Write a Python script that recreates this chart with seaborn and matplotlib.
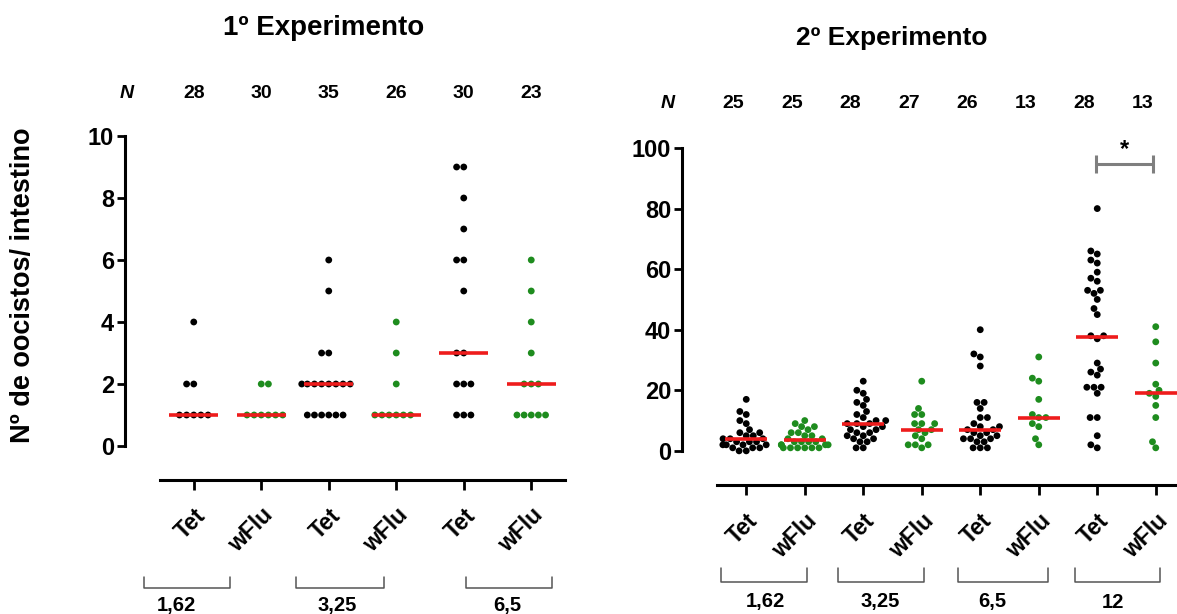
import warnings
import numpy as np
import pandas as pd
import matplotlib
matplotlib.use("Agg")
import matplotlib.pyplot as plt
import matplotlib.transforms as mtransforms
import seaborn as sns

warnings.filterwarnings("ignore")

sns.set_theme(style="ticks")
plt.rcParams["font.family"] = ["Liberation Sans", "DejaVu Sans"]
plt.rcParams["font.weight"] = "bold"
plt.rcParams["text.color"] = "black"
plt.rcParams["xtick.color"] = "black"
plt.rcParams["ytick.color"] = "black"
plt.rcParams["xtick.labelcolor"] = "black"
plt.rcParams["ytick.labelcolor"] = "black"

# ---- 1º Experimento ----
exp1_groups = ["Tet 1,62", "wFlu 1,62", "Tet 3,25", "wFlu 3,25", "Tet 6,5", "wFlu 6,5"]
exp1_ticklabels = ["Tet", "wFlu", "Tet", "wFlu", "Tet", "wFlu"]
exp1_tet_162 = [4, 2, 2, 1, 1, 1, 1, 1]
exp1_wflu_162 = [2, 2, 1, 1, 1, 1, 1, 1]
exp1_tet_325 = [6, 5, 3, 3, 2, 2, 2, 2, 2, 2, 2, 2, 1, 1, 1, 1, 1, 1]
exp1_wflu_325 = [4, 3, 2, 1, 1, 1, 1, 1, 1]
exp1_tet_65 = [9, 9, 8, 7, 6, 6, 5, 3, 3, 2, 2, 2, 1, 1, 1]
exp1_wflu_65 = [6, 5, 4, 3, 2, 2, 2, 1, 1, 1, 1, 1]
exp1_medians = [1, 1, 2, 1, 3, 2]
exp1_n = [28, 30, 35, 26, 30, 23]
exp1_doses = ["1,62", "3,25", "6,5"]

# ---- 2º Experimento ----
exp2_groups = ["Tet 1,62", "wFlu 1,62", "Tet 3,25", "wFlu 3,25",
               "Tet 6,5", "wFlu 6,5", "Tet 12", "wFlu 12"]
exp2_ticklabels = ["Tet", "wFlu", "Tet", "wFlu", "Tet", "wFlu", "Tet", "wFlu"]
exp2_tet_162 = [17, 13, 12, 10, 9, 7, 6, 6, 5, 5, 4, 4, 4, 3, 3, 3, 2, 2, 2, 2, 1, 1, 1, 0, 0]
exp2_wflu_162 = [10, 9, 8, 8, 7, 6, 6, 5, 5, 4, 4, 3, 3, 3, 3, 2, 2, 2, 2, 1, 1, 1, 1, 1, 1]
exp2_tet_325 = [23, 20, 19, 17, 16, 15, 13, 12, 11, 10, 10, 9, 9, 9, 8, 8, 7, 7,
                6, 6, 5, 5, 4, 4, 3, 3, 1, 1]
exp2_wflu_325 = [23, 14, 12, 12, 9, 9, 9, 7, 7, 6, 5, 4, 2, 2, 2, 1]
exp2_tet_65 = [40, 32, 31, 28, 16, 16, 14, 11, 11, 9, 8, 8, 7, 7, 6, 6, 5, 5,
               4, 4, 4, 3, 3, 1, 1, 1]
exp2_wflu_65 = [31, 24, 23, 17, 12, 11, 11, 9, 8, 4, 2]
exp2_tet_12 = [80, 66, 65, 63, 62, 59, 57, 56, 53, 53, 52, 50, 47, 45, 38, 38, 37,
               29, 27, 26, 25, 21, 21, 21, 19, 11, 11, 5, 2, 1]
exp2_wflu_12 = [41, 36, 29, 22, 20, 19, 18, 15, 11, 3, 1]
exp2_medians = [4, 3.5, 9, 7, 7, 11, 37.5, 19]
exp2_n = [25, 25, 28, 27, 26, 13, 28, 13]
exp2_doses = ["1,62", "3,25", "6,5", "12"]

BLACK = "#000000"
GREEN = "#1e8c1e"
RED = "#ee1c1c"
W, H = 1177, 614


def to_frame(groups, values):
    rows = []
    for g, vals in zip(groups, values):
        for v in vals:
            rows.append({"grupo": g, "valor": v})
    return pd.DataFrame(rows)


df1 = to_frame(exp1_groups, [exp1_tet_162, exp1_wflu_162, exp1_tet_325,
                             exp1_wflu_325, exp1_tet_65, exp1_wflu_65])
df2 = to_frame(exp2_groups, [exp2_tet_162, exp2_wflu_162, exp2_tet_325, exp2_wflu_325,
                             exp2_tet_65, exp2_wflu_65, exp2_tet_12, exp2_wflu_12])

fig = plt.figure(figsize=(W / 100, H / 100), dpi=100)
ax1 = fig.add_axes([160 / W, (H - 461.5) / H, 405 / W, 325.5 / H])
ax2 = fig.add_axes([717 / W, (H - 466) / H, 468 / W, 318 / H])


def draw_panel(ax, df, groups, ticklabels, medians, ylim, yticks, bottom_out):
    pal = {g: (BLACK if g.startswith("Tet") else GREEN) for g in groups}
    sns.swarmplot(data=df, x="grupo", y="valor", hue="grupo", order=groups,
                  hue_order=groups, palette=pal, size=4.9, linewidth=0,
                  legend=False, ax=ax)
    xs = np.arange(len(groups))
    ax.hlines(medians, xs - 0.36, xs + 0.36, colors=RED, lw=2.6, zorder=5)
    ax.set_xlim(-0.5, len(groups) - 0.5)
    ax.set_ylim(*ylim)
    ax.set_xlabel("")
    ax.set_ylabel("")
    sns.despine(ax=ax)
    # spine positions first (moving a spine resets the tick objects)
    ax.spines["left"].set_position(("outward", 25))
    ax.spines["bottom"].set_position(("outward", bottom_out))
    ax.spines["left"].set_bounds(yticks[0], yticks[-1])
    for s in ["left", "bottom"]:
        ax.spines[s].set_linewidth(2.2)
        ax.spines[s].set_color("black")
    ax.set_yticks(yticks)
    ax.set_yticklabels([str(t) for t in yticks], fontsize=17, fontweight="bold")
    ax.set_xticks(xs)
    ax.set_xticklabels(ticklabels, fontsize=16.5, fontweight="bold", rotation=45,
                       ha="right", rotation_mode="anchor")
    ax.tick_params(axis="y", length=6, width=2, pad=2, colors="black")
    ax.tick_params(axis="x", length=7, width=2, pad=10, colors="black")
    ax.patch.set_alpha(0)


draw_panel(ax1, df1, exp1_groups, exp1_ticklabels, exp1_medians,
           (-0.5, 10), list(range(0, 11, 2)), 13.5)
draw_panel(ax2, df2, exp2_groups, exp2_ticklabels, exp2_medians,
           (-5, 100), list(range(0, 101, 20)), 14)

# titles and y label
fig.text(324 / W, 1 - 28 / H, "1º Experimento", fontsize=20, fontweight="bold",
         ha="center", va="center")
fig.text(892 / W, 1 - 38 / H, "2º Experimento", fontsize=19, fontweight="bold",
         ha="center", va="center")
fig.text(23 / W, 1 - 285 / H, "Nº de oocistos/ intestino", fontsize=19.5,
         fontweight="bold", rotation=90, ha="center", va="center")

# N row
for ax, ns, ypix, npix, shift in [(ax1, exp1_n, 93, 127, 0.0), (ax2, exp2_n, 103, 668, -0.22)]:
    tr = mtransforms.blended_transform_factory(ax.transData, fig.transFigure)
    fig.text(npix / W, 1 - ypix / H, "N", fontsize=14, fontweight="bold",
             style="italic", ha="center", va="center")
    for i, n in enumerate(ns):
        ax.text(i + shift, 1 - ypix / H, str(n), transform=tr, fontsize=14,
                fontweight="bold", ha="center", va="center", clip_on=False)

# dose brackets
exp1_brackets = [(-0.73, 0.54), (1.51, 2.82), (4.04, 5.31)]
exp1_dose_x = [-0.25, 2.13, 4.64]
exp2_brackets = [(-0.44, 1.04), (1.56, 3.03), (3.62, 5.15), (5.62, 7.08)]
exp2_dose_x = [0.32, 2.29, 4.2, 6.27]

for ax, brs, dx, doses, ytop, ybot, ylab in [
        (ax1, exp1_brackets, exp1_dose_x, exp1_doses, 577, 588, 605),
        (ax2, exp2_brackets, exp2_dose_x, exp2_doses, 568, 582, 602)]:
    tr = mtransforms.blended_transform_factory(ax.transData, fig.transFigure)
    for (a, b), x, lab in zip(brs, dx, doses):
        ax.plot([a, a, b, b], [1 - ytop / H, 1 - ybot / H, 1 - ybot / H, 1 - ytop / H],
                color="#555555", lw=1.1, transform=tr, clip_on=False)
        ax.text(x, 1 - ylab / H, lab, transform=tr, fontsize=14.5, fontweight="bold",
                ha="center", va="center", clip_on=False)

# significance bar between Tet 12 and wFlu 12
ax2.hlines(94.7, 5.98, 6.95, colors="#7f7f7f", lw=2.2, clip_on=False)
ax2.vlines([5.98, 6.95], 91.7, 97.7, colors="#7f7f7f", lw=2.2, clip_on=False)
ax2.text(6.47, 99.5, "*", fontsize=17, fontweight="bold", ha="center", va="center",
         clip_on=False)

fig.savefig("out.png", dpi=100)
